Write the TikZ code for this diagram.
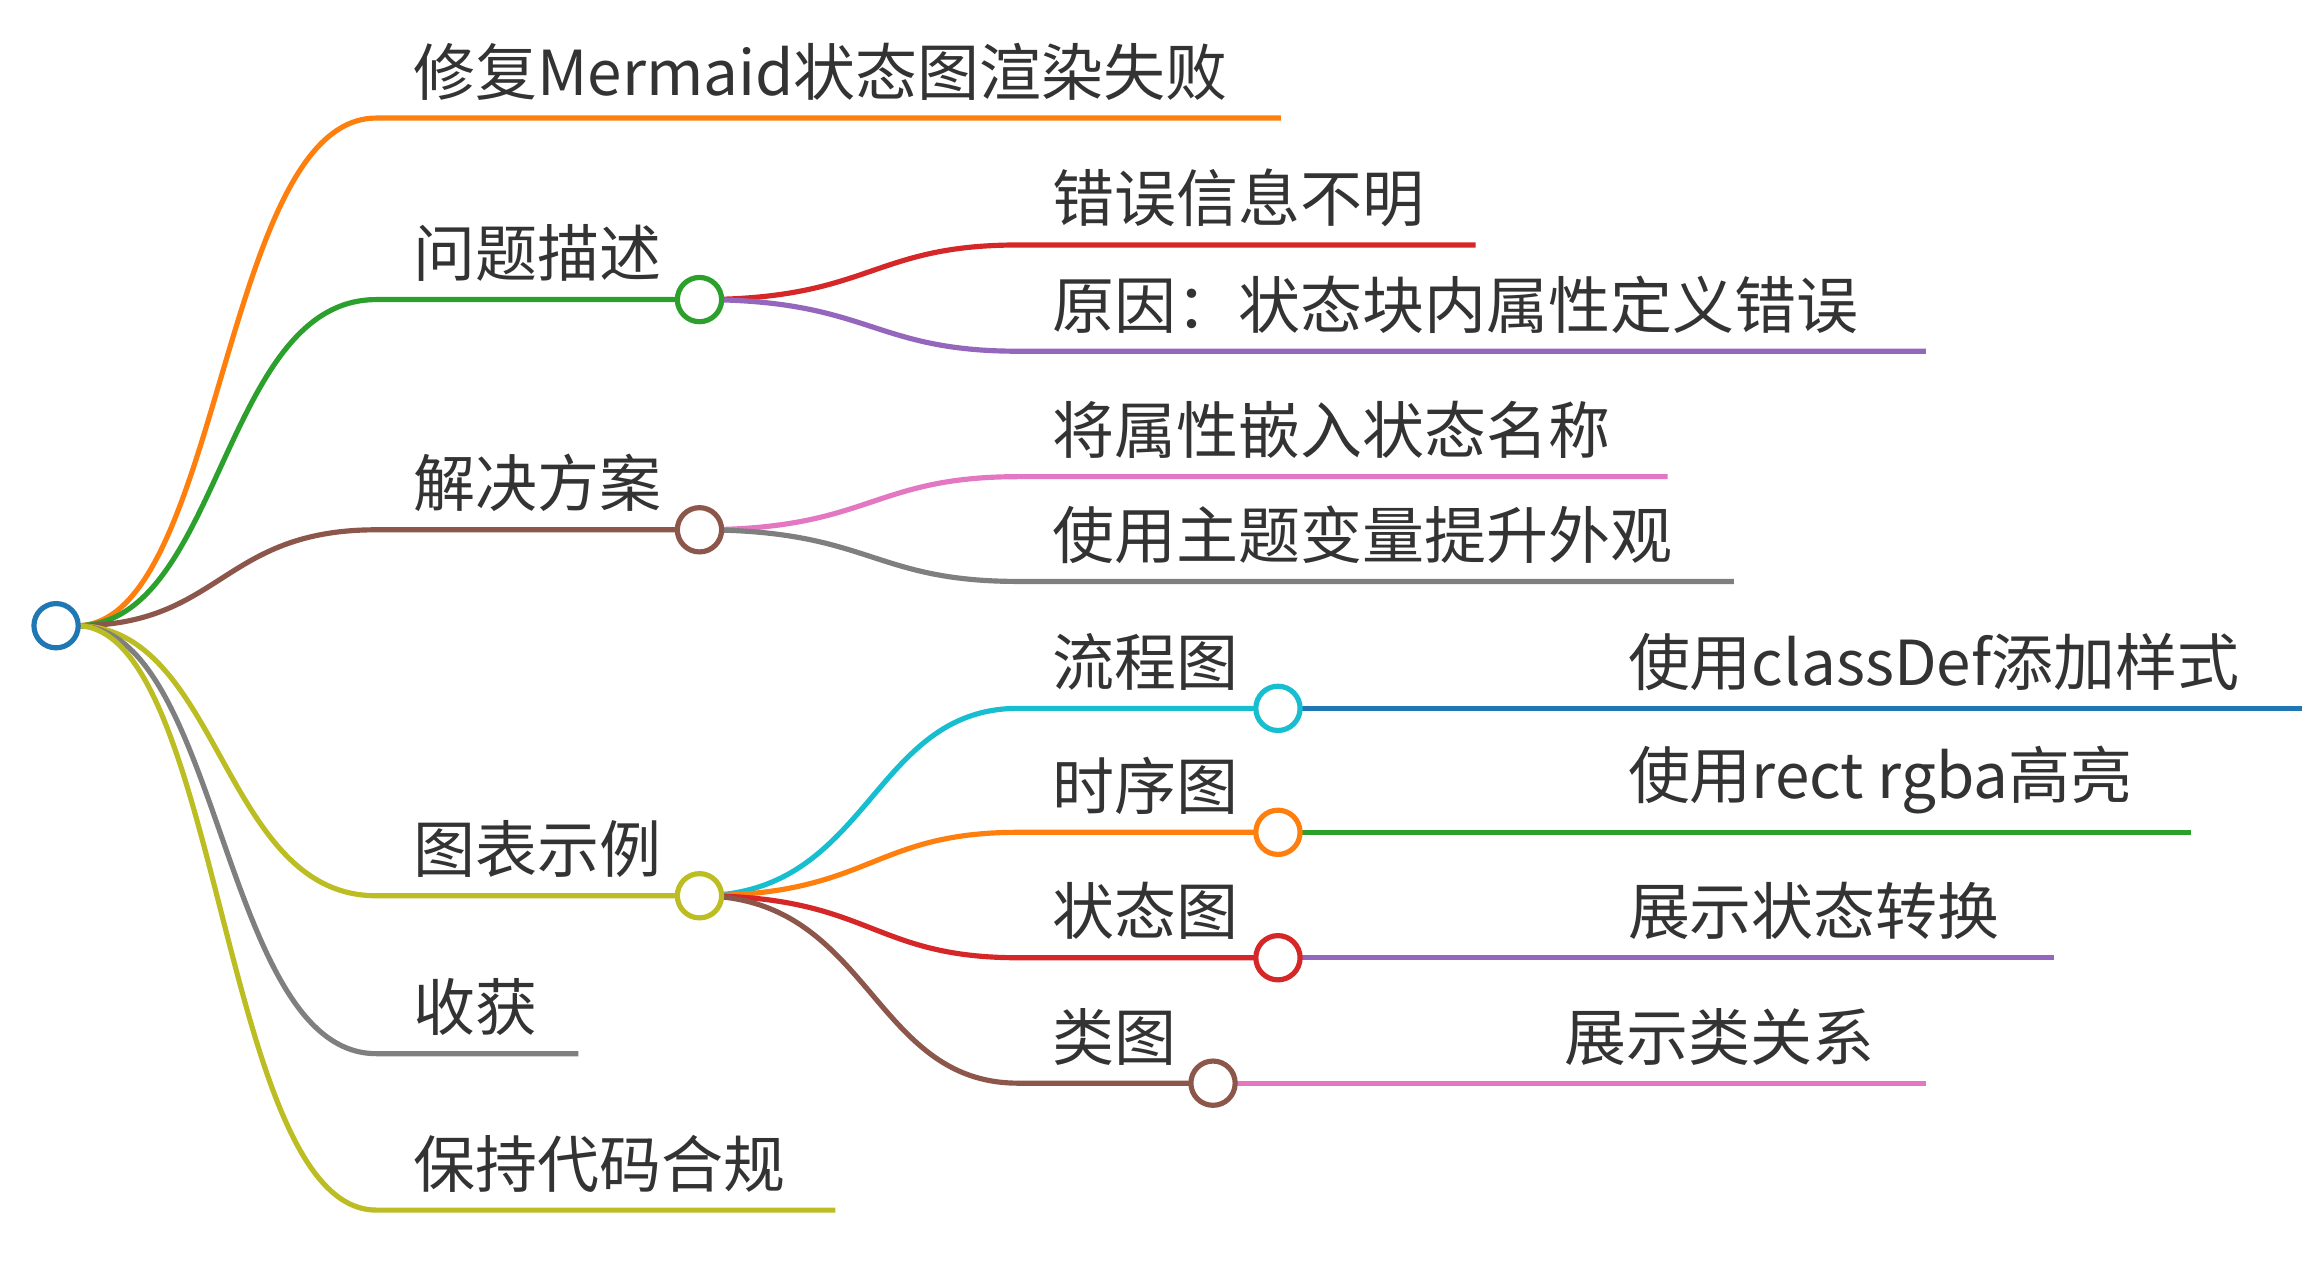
\documentclass[tikz,border=0pt]{standalone}
\usepackage{fontspec}
\setmainfont{Noto Sans CJK SC}
\definecolor{cOr}{HTML}{FF7F0E}
\definecolor{cGr}{HTML}{2CA02C}
\definecolor{cRd}{HTML}{D62728}
\definecolor{cPu}{HTML}{9467BD}
\definecolor{cBr}{HTML}{8C564B}
\definecolor{cPk}{HTML}{E377C2}
\definecolor{cGy}{HTML}{7F7F7F}
\definecolor{cOl}{HTML}{BCBD22}
\definecolor{cCy}{HTML}{17BECF}
\definecolor{cBl}{HTML}{1F77B4}
\tikzset{
 br/.style={line width=3.5pt},
 dot/.style={circle,draw=#1,fill=white,line width=3.5pt,minimum size=30pt,inner sep=0pt},
 lab/.style={anchor=south west,inner sep=0pt,font=\fontsize{42}{42}\selectfont,text=black!80},
}
\begin{document}
\begin{tikzpicture}[x=1pt,y=-1pt]
\useasboundingbox (0,0) rectangle (1564,855);
\coordinate (r) at (52,424);
% level 1
\foreach \n/\y/\e/\c in {a/80/868/cOr,b/203/474/cGr,c/359/474/cBr,d/607/474/cOl,e/714/392/cGy,f/820/566/cOl}{
  \coordinate (\n s) at (255,\y);
  \coordinate (\n e) at (\e,\y);
  \draw[br,\c] (r) .. controls (150,424) and (150,\y) .. (\n s) -- (\n e);
}
% level 2
\foreach \p/\py/\n/\y/\e/\c in {b/203/b1/166/1000/cRd,b/203/b2/238/1305/cPu,c/359/c1/323/1130/cPk,c/359/c2/394/1175/cGy,d/607/d1/480/866/cCy,d/607/d2/564/866/cOr,d/607/d3/649/866/cRd,d/607/d4/734/822/cBr}{
  \coordinate (\n s) at (690,\y);
  \coordinate (\n e) at (\e,\y);
  \draw[br,\c] (\p e) .. controls (590,\py) and (590,\y) .. (\n s) -- (\n e);
}
% level 3 lines
\foreach \n/\e/\c in {d1/1560/cBl,d2/1485/cGr,d3/1392/cPu,d4/1305/cPk}{
  \coordinate (\n x) at (\e,0);
  \draw[br,\c] (\n e) -- (\n e -| \n x);
}
% circles
\node[dot=cBl] (root) at (38,424) {};
\node[dot=cGr] (nb) at (be) {};
\node[dot=cBr] (nc) at (ce) {};
\node[dot=cOl] (nd) at (de) {};
\node[dot=cCy] (nd1) at (d1e) {};
\node[dot=cOr] (nd2) at (d2e) {};
\node[dot=cRd] (nd3) at (d3e) {};
\node[dot=cBr] (nd4) at (d4e) {};
% labels
\node[lab] (ta) at (280,68) {修复Mermaid状态图渲染失败};
\node[lab] (tb) at (280,191) {问题描述};
\node[lab] (tc) at (280,347) {解决方案};
\node[lab] (td) at (280,595) {图表示例};
\node[lab] (te) at (280,702) {收获};
\node[lab] (tf) at (280,808) {保持代码合规};
\node[lab] (tb1) at (713,154) {错误信息不明};
\node[lab] (tb2) at (713,226) {原因：状态块内属性定义错误};
\node[lab] (tc1) at (713,311) {将属性嵌入状态名称};
\node[lab] (tc2) at (713,382) {使用主题变量提升外观};
\node[lab] (td1) at (713,468) {流程图};
\node[lab] (td2) at (713,552) {时序图};
\node[lab] (td3) at (713,637) {状态图};
\node[lab] (td4) at (713,722) {类图};
\node[lab] (te1) at (1103,468) {使用classDef添加样式};
\node[lab] (te2) at (1103,552) {使用rect rgba高亮};
\node[lab] (te3) at (1103,637) {展示状态转换};
\node[lab] (te4) at (1060,722) {展示类关系};
\end{tikzpicture}
\end{document}
